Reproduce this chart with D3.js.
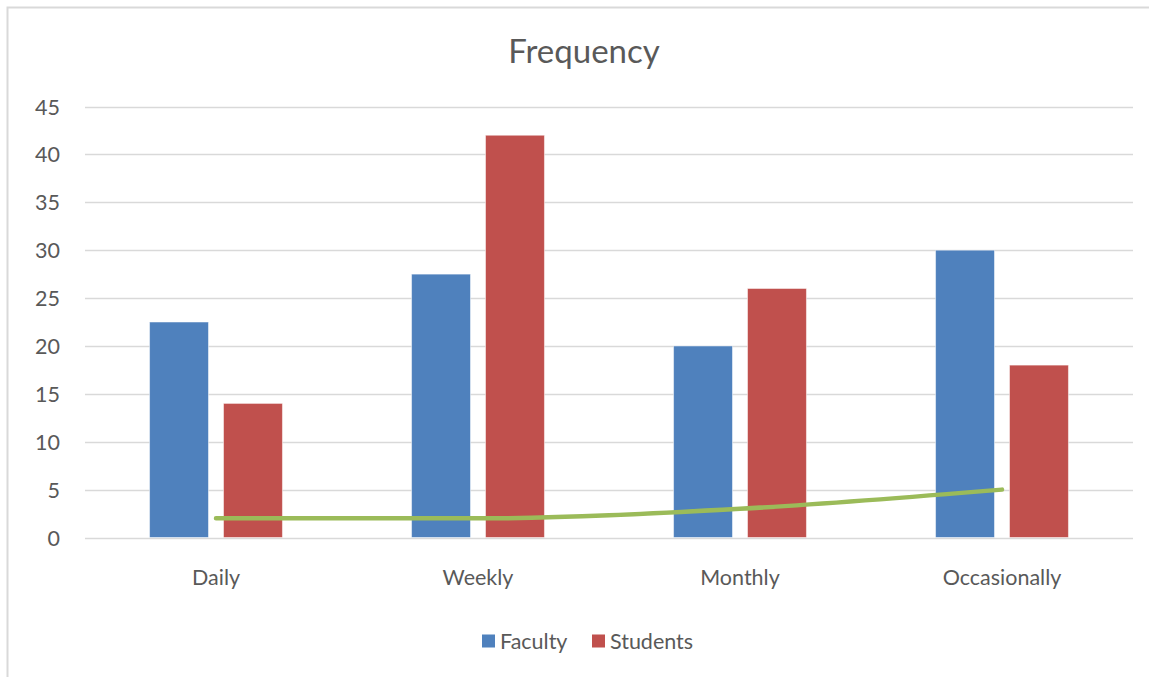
<!DOCTYPE html>
<html>
<head>
<meta charset="utf-8">
<script src="https://cdn.jsdelivr.net/npm/d3@7"></script>
<style>
  html, body { margin: 0; padding: 0; background: #fff; }
  svg { display: block; }
  text { font-family: Lato, "Open Sans", sans-serif; fill: #595959; }
</style>
</head>
<body>
<svg id="chart" width="1149" height="677"></svg>
<script>
// Usage frequency by group
const categories = ["Daily", "Weekly", "Monthly", "Occasionally"];
const faculty = [22.5, 27.5, 20, 30];
const students = [14, 42, 26, 18];
const trend = [2, 2, 3, 5];
const yTicks = [0, 5, 10, 15, 20, 25, 30, 35, 40, 45];
const seriesNames = ["Faculty", "Students"];
const seriesColors = ["#4F81BD", "#C0504D"];

const svg = d3.select("#chart");
const W = 1149, H = 677;
const plot = { left: 85, right: 1133, top: 106.5, bottom: 537.5 };
const labelSize = 21.5;

// chart frame (top and left edges)
svg.append("path")
  .attr("d", `M7.5,${H} L7.5,7.5 L${W},7.5`)
  .attr("fill", "none")
  .attr("stroke", "#d9d9d9")
  .attr("stroke-width", 2);

svg.append("text")
  .attr("x", 584).attr("y", 63)
  .attr("text-anchor", "middle")
  .attr("font-size", 33)
  .text("Frequency");

const x = d3.scaleBand().domain(categories).range([plot.left, plot.right]).padding(0);
const y = d3.scaleLinear().domain([0, 45]).range([plot.bottom, plot.top]);

// gridlines
svg.append("g")
  .selectAll("line")
  .data(yTicks)
  .join("line")
  .attr("x1", plot.left).attr("x2", plot.right)
  .attr("y1", d => Math.round(y(d)) + 0.5).attr("y2", d => Math.round(y(d)) + 0.5)
  .attr("stroke", "#d9d9d9").attr("stroke-width", 1.3);

// y axis labels
const yAxis = d3.axisLeft(y).tickValues(yTicks).tickSize(0).tickPadding(0);
const gy = svg.append("g").attr("transform", `translate(60,0)`).call(yAxis);
gy.select(".domain").remove();
gy.selectAll("text")
  .attr("font-size", labelSize)
  .attr("font-family", "Lato, 'Open Sans', sans-serif")
  .attr("fill", "#595959")
  .attr("dy", "0.35em");

// x axis labels
const xAxis = d3.axisBottom(x).tickSize(0).tickPadding(0);
const gx = svg.append("g").attr("transform", `translate(0,${plot.bottom + 40})`).call(xAxis);
gx.select(".domain").remove();
gx.selectAll("text")
  .attr("font-size", labelSize)
  .attr("font-family", "Lato, 'Open Sans', sans-serif")
  .attr("fill", "#595959")
  .attr("dy", "0.35em");

// bars
const barW = x.bandwidth() * 0.225;
const innerGap = 15;
const offsets = [-(barW + innerGap / 2), innerGap / 2];
[faculty, students].forEach((vals, si) => {
  svg.append("g")
    .selectAll("rect")
    .data(vals)
    .join("rect")
    .attr("x", (d, i) => x(categories[i]) + x.bandwidth() / 2 + offsets[si])
    .attr("y", d => y(d))
    .attr("width", barW)
    .attr("height", d => y(0) - y(d))
    .attr("fill", seriesColors[si])
    .attr("stroke", "#fff")
    .attr("stroke-opacity", 0.5)
    .attr("stroke-width", 1);
});

// smoothed trend line
const line = d3.line()
  .x((d, i) => x(categories[i]) + x.bandwidth() / 2)
  .y(d => y(d))
  .curve(d3.curveMonotoneX);
svg.append("path")
  .datum(trend)
  .attr("d", line)
  .attr("fill", "none")
  .attr("stroke", "#9BBB59")
  .attr("stroke-width", 4.5)
  .attr("stroke-linecap", "round");

// legend
const legend = svg.append("g").attr("transform", "translate(482,641)");
const legendX = [0, 110];
seriesNames.forEach((name, i) => {
  const g = legend.append("g").attr("transform", `translate(${legendX[i]},0)`);
  g.append("rect").attr("x", 0).attr("y", -6.5).attr("width", 13).attr("height", 13)
    .attr("fill", seriesColors[i]);
  g.append("text").attr("x", 18).attr("y", 0).attr("dy", "0.35em")
    .attr("font-size", labelSize).text(name);
});
</script>
</body>
</html>
